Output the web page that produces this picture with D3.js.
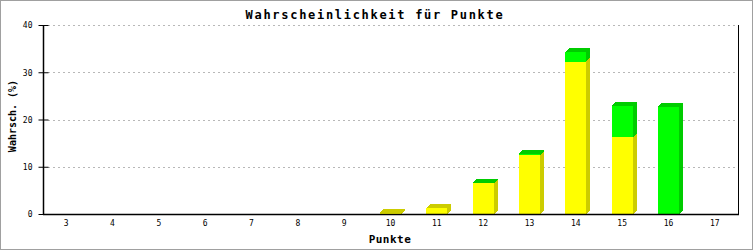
<!DOCTYPE html>
<html>
<head>
<meta charset="utf-8">
<script src="https://cdn.jsdelivr.net/npm/d3@7"></script>
<style>
  body { margin: 0; background: #fff; }
  svg { display: block; }
  text { font-family: "DejaVu Sans Mono", "Liberation Mono", monospace; fill: #000; }
</style>
</head>
<body>
<div id="chart"></div>
<script>
// Data
var punkte = ["3", "4", "5", "6", "7", "8", "9", "10", "11", "12", "13", "14", "15", "16", "17"];
var gelb   = [0, 0, 0, 0, 0, 0, 0, 0.3, 1.2, 6.5, 12.4, 32.2, 16.2, 0, 0];
var gruen  = [0, 0, 0, 0, 0, 0, 0, 0, 0, 0.15, 0.3, 2.0, 6.7, 22.7, 0];
var yTicks = [0, 10, 20, 30, 40];

var width = 753, height = 250;
var plot = {left: 43, right: 738, top: 25, bottom: 214};
var depth = 4;
var barW = 21;

var svg = d3.select("#chart").append("svg")
    .attr("width", width)
    .attr("height", height);

// outer frame
svg.append("rect")
    .attr("x", 0.5).attr("y", 0.5)
    .attr("width", width - 1).attr("height", height - 1)
    .attr("fill", "#fff")
    .attr("stroke", "#a0a0a0");

var x = d3.scaleBand()
    .domain(punkte)
    .range([plot.left, plot.right]);

var y = d3.scaleLinear()
    .domain([0, 40])
    .range([plot.bottom, plot.top]);

// grid
svg.append("g").selectAll("line")
    .data(yTicks.filter(function(d) { return d > 0; }))
    .enter().append("line")
    .attr("x1", plot.left + 5).attr("x2", plot.right)
    .attr("y1", function(d) { return Math.round(y(d)) + 0.5; })
    .attr("y2", function(d) { return Math.round(y(d)) + 0.5; })
    .attr("stroke", "#b8b8b8")
    .attr("stroke-dasharray", "2,3");

// right frame line
svg.append("line")
    .attr("x1", plot.right + 0.5).attr("x2", plot.right + 0.5)
    .attr("y1", plot.top).attr("y2", plot.bottom)
    .attr("stroke", "#000");

// bars
var segs = [];
punkte.forEach(function(p, i) {
  var top = gelb[i] + gruen[i];
  if (gelb[i] > 0) segs.push({p: p, y0: 0, y1: gelb[i], front: "#ffff00", dark: "#cccc00", isTop: gruen[i] === 0});
  if (gruen[i] > 0) segs.push({p: p, y0: gelb[i], y1: top, front: "#00ff00", dark: "#00cc00", isTop: true});
});

var bars = svg.append("g").attr("shape-rendering", "crispEdges");
segs.forEach(function(s) {
  var x0 = Math.round(x(s.p) + x.bandwidth() / 2 - barW / 2);
  var x1 = x0 + barW;
  var yb = y(s.y0), yt = y(s.y1);
  // side
  bars.append("path")
      .attr("d", "M" + x1 + "," + yb + "L" + x1 + "," + yt + "L" + (x1 + depth) + "," + (yt - depth) +
                 "L" + (x1 + depth) + "," + (yb - depth) + "Z")
      .attr("fill", s.dark);
  // front
  bars.append("rect")
      .attr("x", x0).attr("y", yt)
      .attr("width", barW).attr("height", Math.max(0, yb - yt))
      .attr("fill", s.front);
  if (s.isTop) {
    bars.append("path")
        .attr("d", "M" + x0 + "," + yt + "L" + x1 + "," + yt + "L" + (x1 + depth) + "," + (yt - depth) +
                   "L" + (x0 + depth) + "," + (yt - depth) + "Z")
        .attr("fill", s.dark);
  }
});

// axes
var yAxis = svg.append("g")
    .attr("transform", "translate(" + (plot.left + 0.5) + ",0)")
    .call(d3.axisLeft(y).tickValues(yTicks).tickSize(5).tickPadding(6));
yAxis.selectAll(".tick").append("line").attr("x2", 5).attr("stroke", "#000");
yAxis.selectAll("text").style("font-size", "8px").attr("dy", "0.35em");
yAxis.select(".domain").attr("d", "M0," + plot.top + "V" + (plot.bottom + 0.5));

var xAxis = svg.append("g")
    .attr("transform", "translate(0," + (plot.bottom + 0.5) + ")")
    .call(d3.axisBottom(x).tickSize(0).tickPadding(6));
xAxis.selectAll("text").style("font-size", "8px");
xAxis.select(".domain").attr("d", "M" + plot.left + ",0H" + (plot.right + 1));

svg.selectAll(".domain").attr("stroke", "#000").attr("stroke-width", 1.5);

// titles
svg.append("text")
    .attr("x", 375).attr("y", 18.5)
    .attr("text-anchor", "middle")
    .style("font-size", "12px").style("font-weight", "bold")
    .style("letter-spacing", "1.7px")
    .text("Wahrscheinlichkeit für Punkte");

svg.append("text")
    .attr("x", 390).attr("y", 243)
    .attr("text-anchor", "middle")
    .style("font-size", "11px").style("font-weight", "bold")
    .style("letter-spacing", "0.5px")
    .text("Punkte");

svg.append("text")
    .attr("transform", "translate(16,116) rotate(-90)")
    .attr("text-anchor", "middle")
    .style("font-size", "10px").style("font-weight", "bold")
    .text("Wahrsch. (%)");
</script>
</body>
</html>
